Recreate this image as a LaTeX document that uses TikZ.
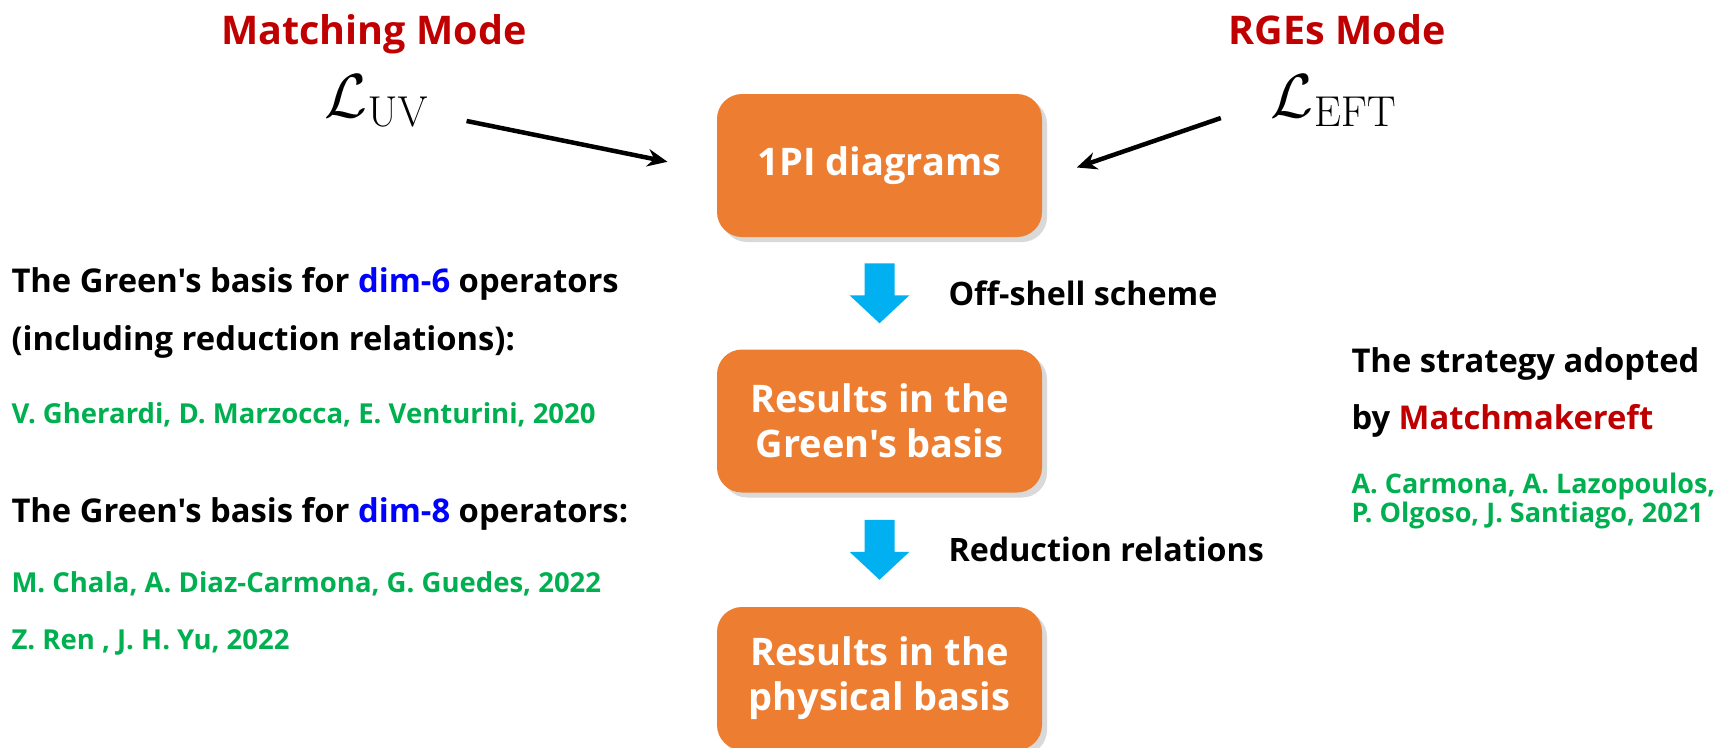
\documentclass[tikz,border=0pt]{standalone}
\usepackage[no-math]{fontspec}
\setmainfont{Open Sans}[Ligatures=TeXOff]
\usetikzlibrary{arrows.meta,shadows,calc}
\definecolor{modered}{HTML}{C00000}
\definecolor{dimblue}{HTML}{0000FF}
\definecolor{refgreen}{HTML}{00B050}
\definecolor{boxorange}{HTML}{ED7D31}
\definecolor{flowblue}{HTML}{00B0F0}
\begin{document}
\begin{tikzpicture}[x=0.4pt,y=-0.4pt,
  modetitle/.style={font=\fontsize{15.8}{20}\selectfont\bfseries, text=modered, inner sep=0pt, anchor=base},
  lagr/.style={font=\fontsize{26.5}{30}\selectfont, inner sep=0pt},
  resbox/.style={rounded corners=10pt, fill=boxorange, text=white, align=center,
    minimum width=130pt, minimum height=57.2pt, font=\fontsize{15.2}{18}\selectfont\bfseries,
    drop shadow={shadow xshift=2pt, shadow yshift=-2pt, opacity=0.3}},
  bigtext/.style={font=\fontsize{13.1}{15}\selectfont\bfseries, anchor=base west, inner sep=0pt},
  reftext/.style={font=\fontsize{11}{13}\selectfont\bfseries, text=refgreen, anchor=base west, inner sep=0pt},
  blkarrow/.style={line width=1.8pt, -{Stealth[length=8pt, width=7pt]}},
]
\useasboundingbox (0,0) rectangle (1725,747);
% the two modes
\node [modetitle] (match) at (374,44) {Matching Mode};
\node [lagr] (luv) at (377,101) {$\mathcal{L}_{\mathrm{UV}}$};
\node [modetitle] (rges) at (1337,44) {RGEs Mode};
\node [lagr] (leff) at (1334,101) {$\mathcal{L}_{\mathrm{EFT}}$};
% flow
\node [resbox] (diag) at (879.5,165.5) {1PI diagrams};
\node [resbox] (green) at (879.5,421) {Results in the\\Green's basis};
\node [resbox] (phys) at (879.5,678.5) {Results in the\\physical basis};
\draw [blkarrow, shorten <=15pt, shorten >=20pt] ([yshift=-5pt]luv.east) -- ([yshift=-2.5pt]diag.west);
\draw [blkarrow, shorten <=21pt, shorten >=14.5pt] (leff.west) -- ([yshift=-5.5pt]diag.east);
\path (diag.south) -- (green.north) coordinate [midway] (m1);
\path (green.south) -- (phys.north) coordinate [midway] (m2);
\foreach \m in {m1,m2}
  \fill [flowblue] ($(\m)+(-15,-30)$) -- ($(\m)+(15,-30)$) -- ($(\m)+(15,2)$) -- ($(\m)+(30,2)$)
    -- ($(\m)+(0,30)$) -- ($(\m)+(-30,2)$) -- ($(\m)+(-15,2)$) -- cycle;
\node [bigtext, font=\fontsize{12.9}{15}\selectfont\bfseries] (offshell) at (948,305) {Off-shell scheme};
\node [bigtext, font=\fontsize{12.9}{15}\selectfont\bfseries] (reduct) at (948,561) {Reduction relations};
% left: Green's basis
\node [bigtext] (gd6) at (11,292) {The Green's basis for \textcolor{dimblue}{dim-6} operators};
\node [bigtext] (gd6b) at (11,350) {(including reduction relations):};
\node [reftext] (ref6) at (11,423) {V. Gherardi, D. Marzocca, E. Venturini, 2020};
\node [bigtext] (gd8) at (11,522) {The Green's basis for \textcolor{dimblue}{dim-8} operators:};
\node [reftext] (ref8a) at (11,592) {M. Chala, A. Diaz-Carmona, G. Guedes, 2022};
\node [reftext] (ref8b) at (11,649) {Z. Ren , J. H. Yu, 2022};
% right: strategy
\node [bigtext] (strat) at (1351,372) {The strategy adopted};
\node [bigtext] (strat2) at (1351,429) {by \textcolor{modered}{Matchmakereft}};
\node [reftext, font=\fontsize{10.8}{13}\selectfont\bfseries] (refmm) at (1351,493) {A. Carmona, A. Lazopoulos,};
\node [reftext, font=\fontsize{10.8}{13}\selectfont\bfseries] (refmm2) at (1351,522) {P. Olgoso, J. Santiago, 2021};
\end{tikzpicture}
\end{document}
